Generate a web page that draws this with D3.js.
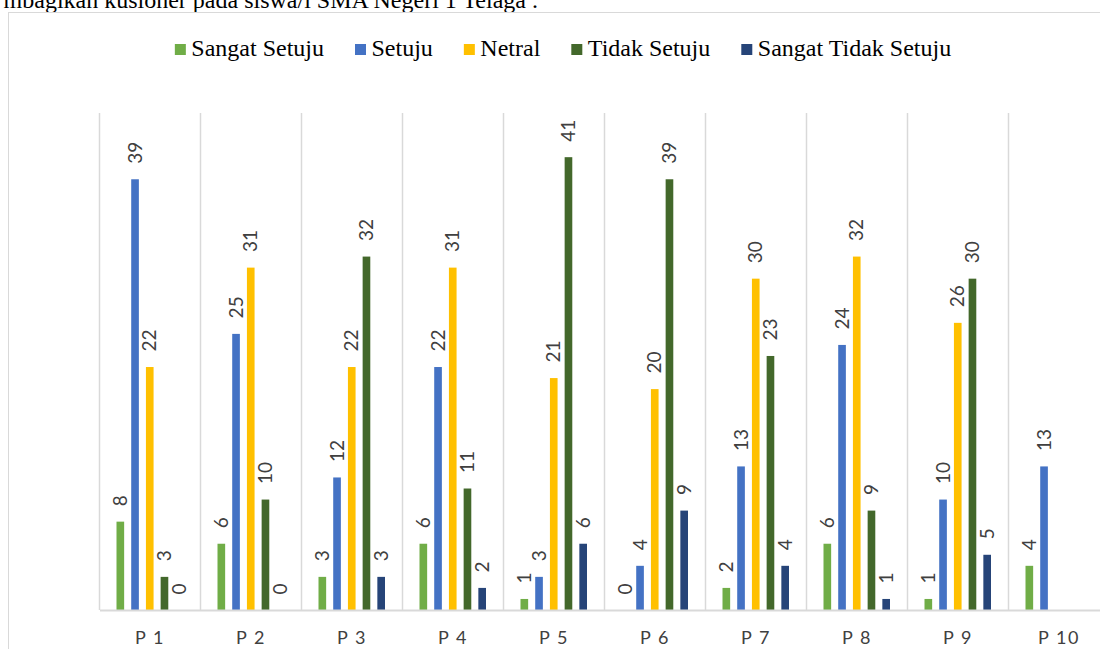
<!DOCTYPE html>
<html>
<head>
<meta charset="utf-8">
<script src="https://cdn.jsdelivr.net/npm/d3@7/dist/d3.min.js"></script>
<style>
	html, body { margin: 0; padding: 0; background: #fff; overflow: hidden; }
	svg { display: block; }
</style>
</head>
<body>
<svg class="chartArea"></svg>
<script>
// categories and series
var categories = ["P 1", "P 2", "P 3", "P 4", "P 5", "P 6", "P 7", "P 8", "P 9", "P 10"];
var seriesNames = ["Sangat Setuju", "Setuju", "Netral", "Tidak Setuju", "Sangat Tidak Setuju"];
var seriesColors = ["#70AD47", "#4472C4", "#FFC000", "#43682B", "#264478"];

var sangatSetuju      = [8, 6, 3, 6, 1, 0, 2, 6, 1, 4];
var setuju            = [39, 25, 12, 22, 3, 4, 13, 24, 10, 13];
var netral            = [22, 31, 22, 31, 21, 20, 30, 32, 26, null];
var tidakSetuju       = [3, 10, 32, 11, 41, 39, 23, 9, 30, null];
var sangatTidakSetuju = [0, 0, 3, 2, 6, 9, 4, 1, 5, null];

var yMax = 45;

var serifFont = "'Liberation Serif', 'Times New Roman', serif";
var sansFont = "Lato, 'Open Sans', sans-serif";

function drawGrouped(areaID) {

	var width = 1100,
		height = 649;

	var values = [sangatSetuju, setuju, netral, tidakSetuju, sangatTidakSetuju];

	// flatten into one row per bar
	var data = [];
	categories.forEach(function(c, i) {
		seriesNames.forEach(function(s, j) {
			if (values[j][i] !== null) {
				data.push({ cat: c, series: s, value: values[j][i], color: seriesColors[j] });
			}
		});
	});

	var svg = d3.select("." + areaID)
		.attr("width", width)
		.attr("height", height);

	// cut-off document text above the chart
	svg.append("text")
		.style("font-family", serifFont)
		.style("font-size", "24px")
		.attr("fill", "#000")
		.attr("x", 538)
		.attr("y", 8)
		.attr("text-anchor", "end")
		.text("mbagikan kusioner pada siswa/i SMA Negeri 1 Telaga .");

	// chart frame
	svg.append("rect")
		.attr("x", 8.5)
		.attr("y", 12.5)
		.attr("width", 1200)
		.attr("height", 700)
		.attr("fill", "none")
		.attr("stroke", "#d9d9d9")
		.attr("stroke-width", 1);

	var x0 = d3.scaleBand()
		.domain(categories)
		.range([99.5, 1109.5])
		.paddingInner(0)
		.paddingOuter(0);

	var x1 = d3.scaleBand()
		.domain(seriesNames)
		.range([17, 83.5])
		.paddingInner(0.48)
		.paddingOuter(0);

	var y = d3.scaleLinear()
		.domain([0, yMax])
		.range([610, 113]);

	// vertical category separators
	svg.append("g")
		.selectAll("line")
		.data(categories)
	  .enter().append("line")
		.attr("x1", function(d) { return x0(d); })
		.attr("x2", function(d) { return x0(d); })
		.attr("y1", y(yMax))
		.attr("y2", y(0))
		.attr("stroke", "#d9d9d9")
		.attr("stroke-width", 1.5);

	// bars
	var groups = svg.append("g")
		.selectAll("g")
		.data(categories)
	  .enter().append("g")
		.attr("transform", function(d) { return "translate(" + x0(d) + ",0)"; });

	groups.selectAll("rect")
		.data(function(c) { return data.filter(function(d) { return d.cat === c; }); })
	  .enter().append("rect")
		.attr("x", function(d) { return x1(d.series); })
		.attr("y", function(d) { return y(d.value); })
		.attr("width", x1.bandwidth())
		.attr("height", function(d) { return y(0) - y(d.value); })
		.attr("fill", function(d) { return d.color; });

	// value labels, rotated
	groups.selectAll("text")
		.data(function(c) { return data.filter(function(d) { return d.cat === c; }); })
	  .enter().append("text")
		.style("font-family", sansFont)
		.style("font-size", "19px")
		.attr("fill", "#404040")
		.attr("transform", function(d) {
			var cx = x1(d.series) + x1.bandwidth() / 2;
			return "translate(" + cx + "," + (y(d.value) - 15.5) + ") rotate(-90)";
		})
		.attr("dy", "0.35em")
		.attr("text-anchor", "start")
		.text(function(d) { return d.value; });

	// baseline axis
	var xAxis = d3.axisBottom(x0).tickSize(0).tickPadding(0);
	var axisG = svg.append("g")
		.attr("transform", "translate(0," + y(0) + ")")
		.call(xAxis);
	axisG.select(".domain")
		.attr("stroke", "#d9d9d9")
		.attr("stroke-width", 2);
	axisG.selectAll(".tick text")
		.style("font-family", sansFont)
		.style("font-size", "18px")
		.style("letter-spacing", "1.5px")
		.attr("fill", "#404040")
		.attr("y", 34)
		.attr("dy", 0);

	// legend
	var legend = svg.append("g");
	var items = legend.selectAll("g")
		.data(seriesNames)
	  .enter().append("g");
	items.append("rect")
		.attr("width", 11)
		.attr("height", 11)
		.attr("y", 44)
		.attr("fill", function(d, i) { return seriesColors[i]; });
	items.append("text")
		.style("font-family", serifFont)
		.style("font-size", "24px")
		.attr("fill", "#000")
		.attr("x", 16.5)
		.attr("y", 56)
		.text(function(d) { return d; });

	var pos = 0, offsets = [];
	items.each(function() {
		var w = d3.select(this).select("text").node().getComputedTextLength();
		offsets.push(pos);
		pos += 16.5 + w + 31;
	});
	var total = pos - 31;
	var start = 563 - total / 2;
	items.attr("transform", function(d, i) { return "translate(" + (start + offsets[i]) + ",0)"; });
}

drawGrouped("chartArea");
</script>
</body>
</html>
